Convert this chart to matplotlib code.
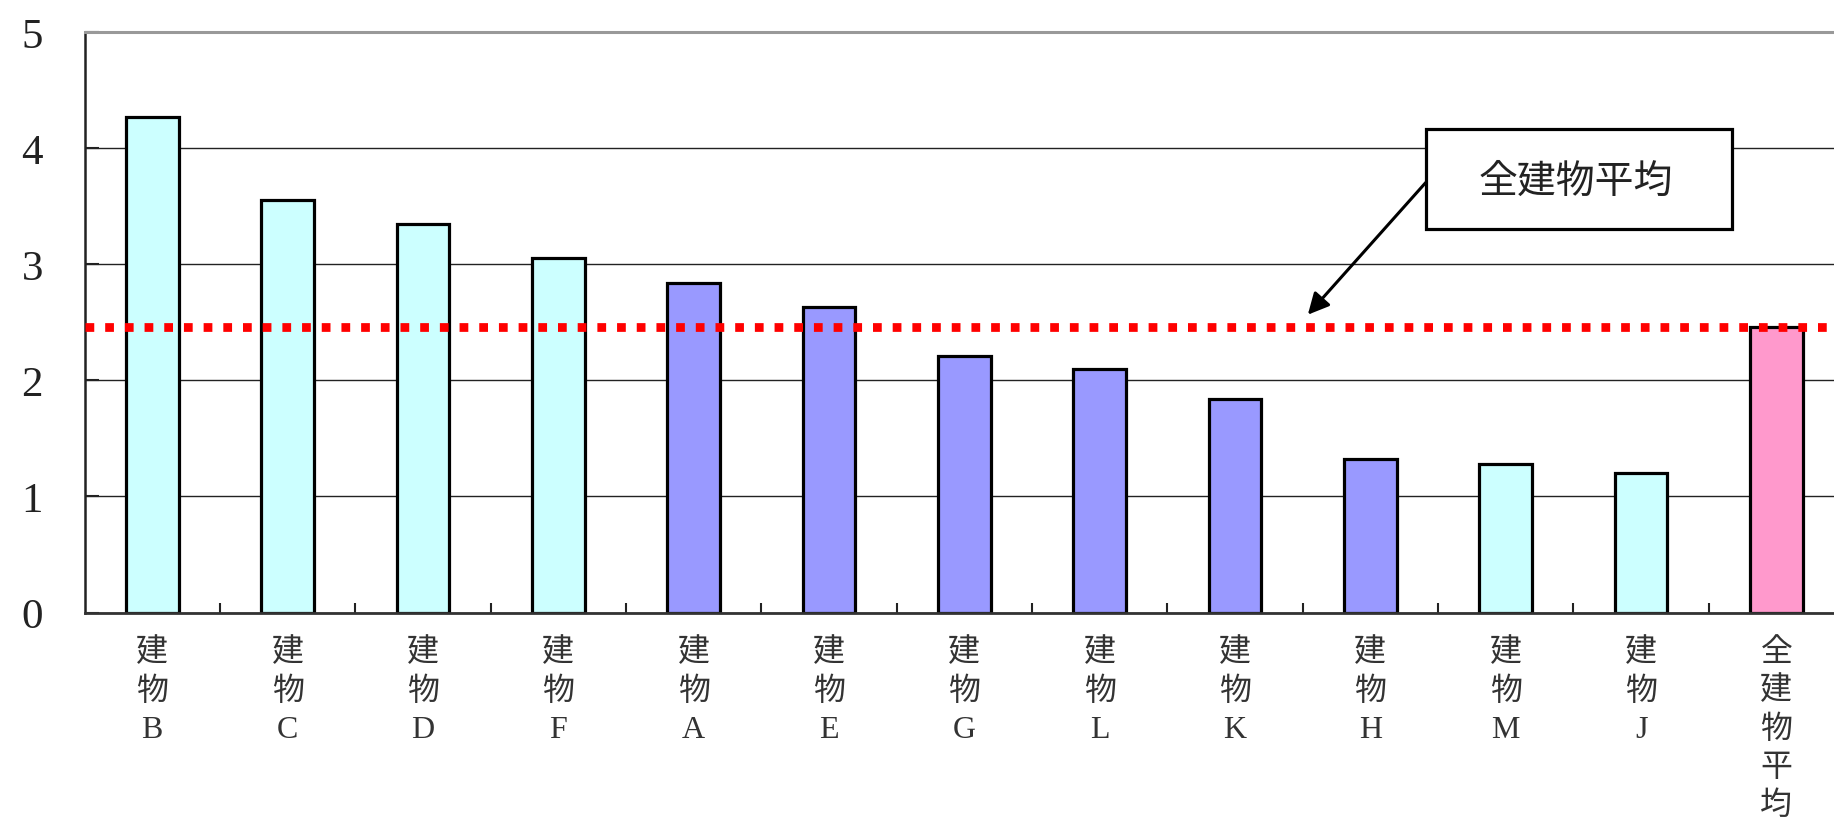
import numpy as np
import matplotlib.pyplot as plt
from matplotlib.patches import Rectangle
from matplotlib.ticker import FixedLocator

# 建物ごとの値（降順）と全建物平均
labels = ['建\n物\nB', '建\n物\nC', '建\n物\nD', '建\n物\nF', '建\n物\nA', '建\n物\nE',
          '建\n物\nG', '建\n物\nL', '建\n物\nK', '建\n物\nH', '建\n物\nM', '建\n物\nJ',
          '全\n建\n物\n平\n均']
values = [4.27, 3.55, 3.35, 3.05, 2.84, 2.63, 2.21, 2.10, 1.84, 1.32, 1.28, 1.20, 2.46]
groups = ['c', 'c', 'c', 'c', 'b', 'b', 'b', 'b', 'b', 'b', 'c', 'c', 'p']
avg = 2.46
yticks = [0, 1, 2, 3, 4, 5]

colors = {'c': '#CCFFFF', 'b': '#9999FF', 'p': '#FF99CC'}
serif = ['Liberation Serif', 'Noto Sans CJK JP']

fig = plt.figure(figsize=(18.34, 8.2), dpi=100)
ax = fig.add_axes([0.0461, 0.2518, 0.9594, 0.708])

x = np.arange(len(values))
ax.grid(axis='y', color='#222222', linewidth=1.0, zorder=0)
ax.set_axisbelow(True)
ax.bar(x, values, width=0.39, color=[colors[g] for g in groups],
       edgecolor='black', linewidth=2.3, zorder=2)

# 平均の赤い点線
ax.axhline(avg, color='red', linewidth=6.3, linestyle=(0, (1, 1.25)),
           dash_capstyle='butt', zorder=3)

ax.set_xlim(-0.5, len(values) - 0.5)
ax.set_ylim(0, 5)
ax.set_yticks(yticks)
ax.set_yticklabels([str(v) for v in yticks], family=serif, fontsize=31, color='#222222')
ax.tick_params(axis='y', direction='in', length=10, width=1.5, pad=30, color='#222222')

ax.set_xticks(x)
ax.set_xticklabels(labels, family=serif, fontsize=23, color='#333333', linespacing=1.40)
ax.tick_params(axis='x', which='major', length=0, pad=18)
ax.xaxis.set_minor_locator(FixedLocator(np.arange(0.5, len(values) - 0.5, 1)))
ax.tick_params(axis='x', which='minor', direction='in', length=7, width=1.5, color='#222222')

ax.spines['top'].set_color('#999999')
ax.spines['top'].set_linewidth(2.2)
ax.spines['left'].set_color('#222222')
ax.spines['left'].set_linewidth(1.8)
ax.spines['bottom'].set_color('#333333')
ax.spines['bottom'].set_linewidth(2.0)
ax.spines['right'].set_visible(False)

# 吹き出し
ax.add_patch(Rectangle((9.409, 3.306), 2.262, 0.862, facecolor='white',
                       edgecolor='black', linewidth=2.3, zorder=5))
ax.text(10.518, 3.72, '全建物平均', family=['Noto Sans CJK JP'], fontsize=28,
        ha='center', va='center', color='#222222', zorder=6)
ax.annotate('', xy=(8.538, 2.565), xytext=(9.409, 3.703),
            arrowprops=dict(arrowstyle='-|>', mutation_scale=32, lw=2.2,
                            color='black', shrinkA=0, shrinkB=0), zorder=6)

fig.savefig('out.png', dpi=100)
